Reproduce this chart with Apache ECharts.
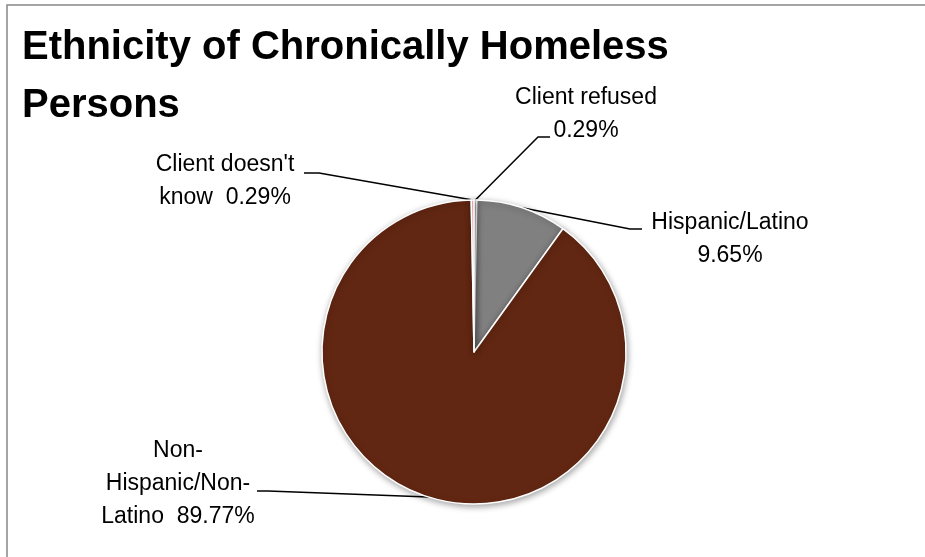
<!DOCTYPE html>
<html><head><meta charset="utf-8">
<script src="https://cdn.jsdelivr.net/npm/echarts@6/dist/echarts.min.js"></script>
<style>html,body{margin:0;padding:0;background:#fff}#c{width:925px;height:557px}</style>
</head><body><div id="c"></div>
<script>
const categories = ['Client refused', 'Hispanic/Latino', 'Non-Hispanic/Non-Latino', "Client doesn't know"];
const labelTexts = ['Client refused\n', 'Hispanic/Latino\n', 'Non-\nHispanic/Non-\nLatino  ', "Client doesn't\nknow  "];
const values = [0.29, 9.65, 89.77, 0.29];
const colors = ['#FBE5D6', '#808080', '#622712', '#F4B6C2'];
const labelPos = [[586, 114], [730, 239], [178, 484], [225, 181]];
const leaderElbows = [[[538, 137], [550, 137]], [[630, 229], [642, 229]], [[268, 491], [257, 491]], [[319, 173], [304, 173]]];

const FONT = '"Liberation Sans", Arial, sans-serif';
const chart = echarts.init(document.getElementById('c'), null, {renderer: 'canvas'});
chart.setOption({
  animation: false,
  backgroundColor: '#fff',
  graphic: [{type: 'rect', shape: {x: 7, y: 5, width: 1000, height: 1000}, style: {fill: 'none', stroke: '#868686', lineWidth: 1.5}, z: -1}],
  title: {
    text: 'Ethnicity of Chronically Homeless\nPersons',
    left: 17, top: 14,
    textStyle: {fontFamily: FONT, fontWeight: 'bold', fontSize: 40, lineHeight: 58, color: '#000'}
  },
  series: [{
    type: 'pie',
    center: [474, 352],
    radius: 152,
    startAngle: 90,
    clockwise: true,
    avoidLabelOverlap: false,
    data: categories.map((c, i) => ({name: c, value: values[i], itemStyle: {color: colors[i]}})),
    itemStyle: {borderColor: '#fff', borderWidth: 1.5, shadowBlur: 6, shadowColor: 'rgba(0,0,0,0.35)', shadowOffsetX: 1, shadowOffsetY: 2},
    label: {
      show: true,
      formatter: p => labelTexts[p.dataIndex] + values[p.dataIndex].toFixed(2) + '%',
      fontFamily: FONT, fontSize: 23, lineHeight: 33, color: '#000', align: 'center'
    },
    labelLine: {show: true, length: 20, length2: 10, lineStyle: {color: '#000', width: 1.5}},
    labelLayout: p => {
      const i = p.dataIndex;
      const pts = p.labelLinePoints ? [p.labelLinePoints[0]].concat(leaderElbows[i]) : undefined;
      return {x: labelPos[i][0], y: labelPos[i][1], align: 'center', verticalAlign: 'middle', labelLinePoints: pts};
    },
    emphasis: {disabled: true}
  }]
});
</script></body></html>
